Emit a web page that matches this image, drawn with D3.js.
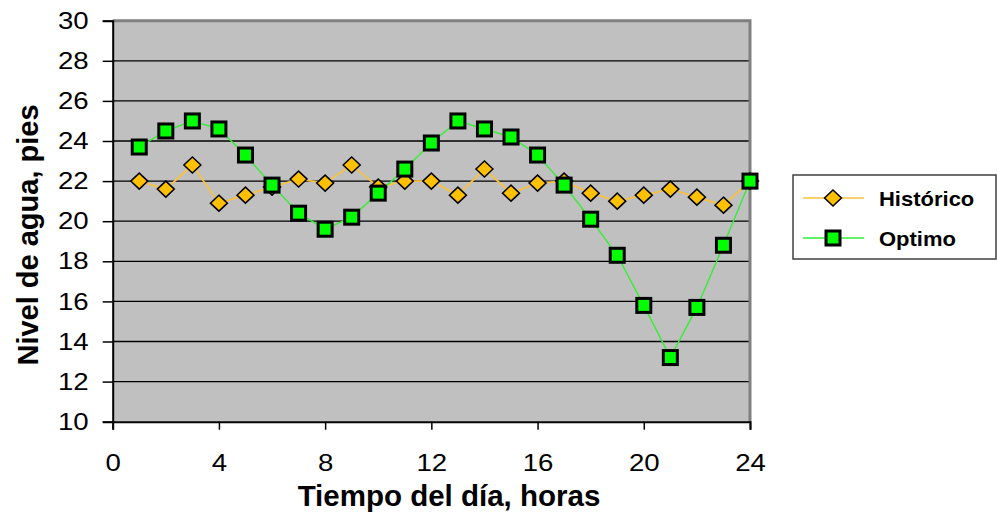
<!DOCTYPE html>
<html>
<head>
<meta charset="utf-8">
<script src="https://cdn.jsdelivr.net/npm/d3@7"></script>
<style>
  html, body { margin: 0; padding: 0; background: #fff; }
  svg { display: block; font-family: "Liberation Sans", Arial, sans-serif; }
</style>
</head>
<body>
<svg id="chart" width="997" height="518"></svg>
<script>
const hours = d3.range(1, 25);
const historico = [22.0, 21.6, 22.8, 20.9, 21.3, 21.7, 22.1, 21.9, 22.8, 21.7, 22.0, 22.0,
                   21.3, 22.6, 21.4, 21.9, 22.0, 21.4, 21.0, 21.3, 21.6, 21.2, 20.8, 22.0];
const optimo = [23.7, 24.5, 25.0, 24.6, 23.3, 21.8, 20.4, 19.6, 20.2, 21.4, 22.6, 23.9,
                25.0, 24.6, 24.2, 23.3, 21.8, 20.1, 18.3, 15.8, 13.2, 15.7, 18.8, 22.0];
const xTicks = [0, 4, 8, 12, 16, 20, 24];
const yTicks = [10, 12, 14, 16, 18, 20, 22, 24, 26, 28, 30];
const seriesNames = ["Histórico", "Optimo"];
const xTitle = "Tiempo del día, horas";
const yTitle = "Nivel de agua, pies";

const svg = d3.select("#chart");
const L = 112.7, R = 750, T = 20.7, B = 421.7;
const x = d3.scaleLinear().domain([0, 24]).range([L, R]);
const y = d3.scaleLinear().domain([10, 30]).range([B, T]);
const SX = 1.15; // horizontal stretch of tick labels

// plot background
svg.append("rect").attr("x", L).attr("y", T).attr("width", R - L).attr("height", B - T)
  .attr("fill", "#c0c0c0");

// gridlines
svg.append("g").selectAll("line").data(yTicks.filter(d => d > 10 && d < 30)).join("line")
  .attr("x1", L).attr("x2", R).attr("y1", d => y(d)).attr("y2", d => y(d))
  .attr("stroke", "#000").attr("stroke-width", 1.3);

// frame: top and right gray
svg.append("path").attr("d", `M${L},${T} H${R} V${B}`)
  .attr("fill", "none").attr("stroke", "#808080").attr("stroke-width", 3);

// axes
const yAxis = d3.axisLeft(y).tickValues(yTicks).tickSize(10).tickPadding(15).tickFormat(d3.format("d"));
const gy = svg.append("g").attr("transform", `translate(${L},0)`).call(yAxis);
gy.select(".domain").attr("stroke", "#000").attr("stroke-width", 2);
gy.selectAll(".tick line").attr("stroke", "#000").attr("stroke-width", 1.5);
gy.selectAll(".tick text").attr("font-size", 24).attr("fill", "#000")
  .attr("font-family", "Liberation Sans, Arial, sans-serif")
  .attr("x", -24 / SX).attr("transform", `scale(${SX},1)`);

const xAxis = d3.axisBottom(x).tickValues(xTicks).tickSize(8).tickPadding(24).tickFormat(d3.format("d"));
const gx = svg.append("g").attr("transform", `translate(0,${B})`).call(xAxis);
gx.select(".domain").attr("stroke", "#000").attr("stroke-width", 2);
gx.selectAll(".tick line").attr("stroke", "#000").attr("stroke-width", 1.5);
gx.selectAll(".tick text").attr("font-size", 24).attr("fill", "#000")
  .attr("font-family", "Liberation Sans, Arial, sans-serif")
  .attr("transform", `scale(${SX},1)`);

// titles
svg.append("text").attr("x", 449).attr("y", 506)
  .attr("text-anchor", "middle").attr("font-weight", "bold").attr("font-size", 29.5)
  .text(xTitle);
svg.append("text").attr("transform", `translate(38,235) rotate(-90)`)
  .attr("text-anchor", "middle").attr("font-weight", "bold").attr("font-size", 29)
  .text(yTitle);

// lines
const hColor = "#f5c242", hFill = "#ffc000";
const oColor = "#33ee33", oFill = "#00ff00";
const lineGen = d3.line().x((d, i) => x(hours[i])).y(d => y(d));
svg.append("path").datum(historico).attr("d", lineGen)
  .attr("fill", "none").attr("stroke", hColor).attr("stroke-width", 1.8);
svg.append("path").datum(optimo).attr("d", lineGen)
  .attr("fill", "none").attr("stroke", oColor).attr("stroke-width", 1.4);

const diamond = "M0,-8 L8.5,0 L0,8 L-8.5,0 Z";
svg.append("g").selectAll("path").data(historico).join("path")
  .attr("transform", (d, i) => `translate(${x(hours[i])},${y(d)})`)
  .attr("d", diamond).attr("fill", hFill).attr("stroke", "#000").attr("stroke-width", 1.5);

svg.append("g").selectAll("rect").data(optimo).join("rect")
  .attr("x", (d, i) => x(hours[i]) - 7).attr("y", d => y(d) - 7)
  .attr("width", 14).attr("height", 14)
  .attr("fill", oFill).attr("stroke", "#000").attr("stroke-width", 3);

// legend
const lg = svg.append("g");
lg.append("rect").attr("x", 793).attr("y", 175).attr("width", 203).attr("height", 84)
  .attr("fill", "#fff").attr("stroke", "#404040").attr("stroke-width", 1.5);
const items = [
  {name: seriesNames[0], color: hColor, fill: hFill, type: "d", cy: 198},
  {name: seriesNames[1], color: oColor, fill: oFill, type: "s", cy: 238}
];
items.forEach(it => {
  lg.append("line").attr("x1", 803).attr("x2", 864).attr("y1", it.cy).attr("y2", it.cy)
    .attr("stroke", it.color).attr("stroke-width", 1.5);
  if (it.type === "d") {
    lg.append("path").attr("transform", `translate(833,${it.cy})`).attr("d", diamond)
      .attr("fill", it.fill).attr("stroke", "#000").attr("stroke-width", 1.5);
  } else {
    lg.append("rect").attr("x", 826).attr("y", it.cy - 7).attr("width", 14).attr("height", 14)
      .attr("fill", it.fill).attr("stroke", "#000").attr("stroke-width", 3);
  }
  lg.append("text").attr("x", 879).attr("y", it.cy + 8).attr("font-weight", "bold")
    .attr("font-size", 20).attr("transform", `translate(879,0) scale(1.1,1) translate(-879,0)`)
    .text(it.name);
});
</script>
</body>
</html>
